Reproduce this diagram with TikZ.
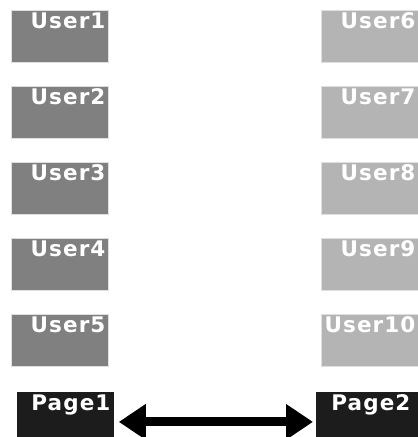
\documentclass[tikz,border=0pt]{standalone}
\usepackage{fontspec}
\newfontfamily\pixfont{DejaVu Sans}[LetterSpace=5]
\usetikzlibrary{arrows.meta}
\definecolor{leftgray}{HTML}{808080}
\definecolor{rightgray}{HTML}{B4B4B4}
\definecolor{pageblack}{HTML}{1C1C1C}

\begin{document}
\begin{tikzpicture}[
    x=1pt, y=-1pt,
    boxstyle/.style={
       rectangle, anchor=north west, draw=gray!25, line width=0.8pt,
       text=white, font={\pixfont\bfseries\fontsize{21.5}{21.5}\selectfont},
       inner xsep=3pt, inner ysep=2.5pt, align=right,
       text height=16pt
        },
    userbox/.style={boxstyle, text width=91pt, text depth=31pt},
    pagebox/.style={boxstyle, fill=pageblack, draw=pageblack,
       inner ysep=2pt, text depth=39pt},
    ]
\useasboundingbox (0,0) rectangle (418,437);

\foreach [count=\j] \y in {10,86,162,238,314} {
   \node [userbox, fill=leftgray] (u-1-\j) at (11,\y) {User\j};
  }
\foreach [count=\j from 6] \y in {10,86,162,238,314} {
   \node [userbox, fill=rightgray] (u-2-\j) at (321,\y) {User\j};
  }

\node [pagebox, text width=90pt] (p-1) at (17,392) {Page1};
\node [pagebox, text width=94pt, inner xsep=4pt] (p-2) at (316,392) {Page2\hspace*{4pt}};

\draw [{Triangle[length=27pt,width=34pt]}-{Triangle[length=27pt,width=34pt]},
       line width=9pt, shorten <=5pt, shorten >=3pt] (p-1) -- (p-2);
\end{tikzpicture}
\end{document}
